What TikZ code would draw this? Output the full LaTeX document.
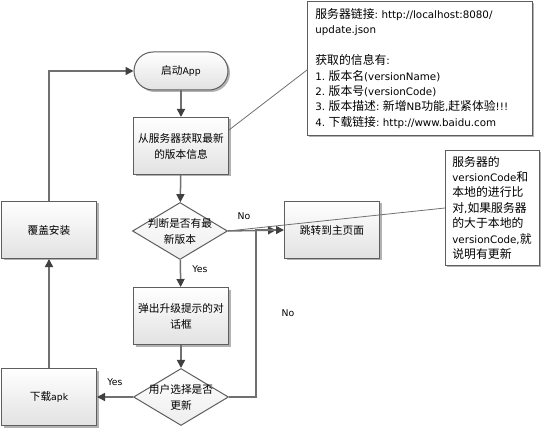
\documentclass[tikz,border=0pt]{standalone}
\usepackage{fontspec}
\setmainfont{DejaVu Sans}
\newfontfamily\cjkf{Noto Sans CJK SC}[Scale=1.15]
\newcommand\cjkcur{\cjkf}
\newcommand\zh[1]{{\cjkcur #1}}
\frenchspacing
\usetikzlibrary{shapes.geometric,arrows.meta,shadows}
\definecolor{linec}{HTML}{707070}
\definecolor{tipc}{HTML}{404040}
\definecolor{borderc}{HTML}{5E5E5E}
\definecolor{shadec}{HTML}{E2E2E2}
\tikzset{
  every node/.style={font=\fontsize{9.3}{16}\selectfont},
  notefont/.style={font=\fontsize{10.3}{15.4}\selectfont},
  shad/.style={drop shadow={shadow xshift=2pt,shadow yshift=-2pt,opacity=0.3,fill=black}},
  boxst/.style={shape=rectangle, draw=borderc, line width=1pt, top color=white, bottom color=shadec,
    minimum width=95pt, minimum height=57pt, align=center, inner sep=2pt, shad},
  startst/.style={boxst, rounded corners=19pt, minimum width=94pt, minimum height=38pt},
  diast/.style={shape=diamond, draw=borderc, line width=1pt, top color=white, bottom color=shadec!60,
    minimum width=95pt, minimum height=57pt, inner sep=0pt},
  txtst/.style={align=center, inner sep=0pt},
  notest/.style={shape=rectangle, draw=borderc, line width=0.8pt, fill=white, align=left, notefont, shad},
  conn/.style={draw=linec, line width=1.5pt, -{Triangle[length=8pt,width=8pt,color=tipc,fill=tipc]}},
  callout/.style={draw=linec, line width=0.8pt},
  lbl/.style={inner sep=0pt}
}
\begin{document}
\begin{tikzpicture}[x=1pt,y=-1pt]
\useasboundingbox (0,0) rectangle (542,428);

% nodes
\node[startst] (start) at (181,71) {\zh{启动}App};
\node[boxst] (fetch) at (181,146) {\zh{从服务器获取最新}\\\zh{的版本信息}};
\node[diast] (d1) at (180,231) {};
\node[txtst] (d1t) at (180,231) {\zh{判断是否有最}\\\zh{新版本}};
\node[boxst] (jump) at (332,230) {\zh{跳转到主页面}};
\node[boxst] (dialog) at (181,316) {\zh{弹出升级提示的对}\\\zh{话框}};
\node[diast] (d2) at (181,397) {};
\node[txtst] (d2t) at (181,397) {\zh{用户选择是否}\\\zh{更新}};
\node[boxst] (down) at (49,397) {\zh{下载}apk};
\node[boxst] (inst) at (49,230) {\zh{覆盖安装}};

% notes
\node[notest, minimum width=225pt, minimum height=134pt, text width=209pt, inner xsep=8pt, anchor=north west] (note1) at (307,1)
 {\zh{服务器链接}: http://localhost:8080/\\
  update.json\\
  \mbox{}\\
  \zh{获取的信息有}:\\
  1. \zh{版本名}(versionName)\\
  2. \zh{版本号}(versionCode)\\
  3. \zh{版本描述}: \zh{新增}NB\zh{功能},\zh{赶紧体验}!!!\\
  4. \zh{下载链接}: http://www.baidu.com};
\node[notest, minimum width=93pt, minimum height=115pt, text width=80pt, inner xsep=7pt, anchor=north west] (note2) at (445,150)
 {\zh{服务器的}\\
  versionCode\zh{和}\\
  \zh{本地的进行比}\\
  \zh{对},\zh{如果服务器}\\
  \zh{的大于本地的}\\
  versionCode,\zh{就}\\
  \zh{说明有更新}};

% helper coordinates
\coordinate (c1) at (256,231);
\coordinate (c2) at (49,71);
\coordinate (n1a) at (307,70);
\coordinate (n2a) at (445,208);

% connectors
\draw[conn] (start) -- (fetch);
\draw[conn] (fetch) -- (d1);
\draw[conn] (d1) -- (dialog);
\draw[conn] (dialog) -- (d2);
\draw[conn, shorten >=8pt] (d1.east) -- (jump.west);
\draw[conn] (d2.east) -- (d2.east -| c1) -- (c1 |- jump.west) -- (jump.west);
\draw[conn] (d2.west) -- (down.east);
\draw[conn] (down.north) -- (inst.south);
\draw[conn] (inst.north) -- (c2) -- (start.west);

% callouts
\draw[callout] (n1a) -- (fetch.north east |- 0,130);
\draw[callout] (n2a) -- (d1.east);

% labels
\node[lbl] (no1) at (244,216) {No};
\node[lbl] (yes1) at (200,269) {Yes};
\node[lbl] (no2) at (288,313) {No};
\node[lbl] (yes2) at (115,382) {Yes};
\end{tikzpicture}
\end{document}
